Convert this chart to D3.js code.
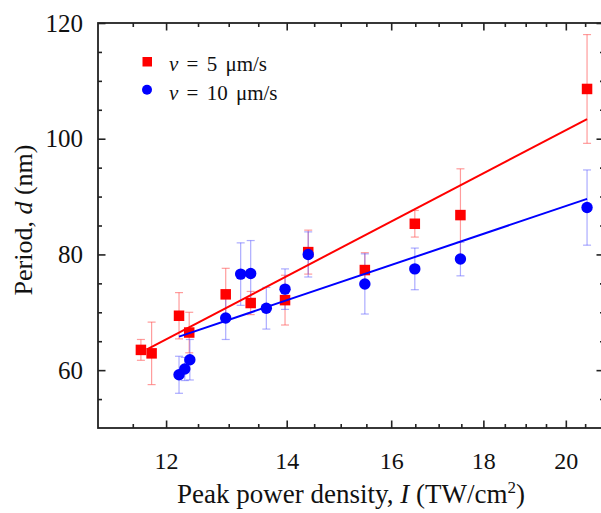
<!DOCTYPE html>
<html>
<head>
<meta charset="utf-8">
<script src="https://cdn.jsdelivr.net/npm/d3@7"></script>
<style>
  body { margin: 0; background: #fff; }
  svg { display: block; }
  text { font-family: "Liberation Serif", "Times New Roman", serif; fill: #111; }
</style>
</head>
<body>
<div id="chart"></div>
<script>
// peak power density (TW/cm2) and period d (nm)
var intensity5 = [11.62, 11.78, 12.2, 12.36, 12.95, 13.37, 13.97, 14.39, 15.47, 16.49, 17.48, 20.55];
var period5    = [63.5, 62.9, 69.4, 66.5, 73.1, 71.6, 72.1, 80.4, 77.3, 85.3, 86.8, 108.6];
var err5       = [1.8, 5.4, 4.0, 3.5, 4.5, 2.0, 4.3, 3.8, 3.0, 2.3, 8.0, 9.4];

var intensity10 = [12.2, 12.29, 12.37, 12.95, 13.2, 13.37, 13.64, 13.97, 14.39, 15.47, 16.49, 17.48, 20.55];
var period10    = [59.2, 60.2, 61.8, 69.0, 76.6, 76.7, 70.7, 74.0, 80.0, 74.9, 77.5, 79.2, 88.1];
var err10       = [3.2, 2.0, 3.5, 3.7, 5.4, 5.7, 3.6, 3.5, 3.9, 5.2, 3.6, 2.9, 6.5];

// linear fits (end points)
var fitX5 = [11.71, 20.55], fitY5 = [63.6, 103.4];
var fitX10 = [12.2, 20.55], fitY10 = [65.8, 89.6];

var xMajor = [12, 14, 16, 18, 20];
var xMinor = [11.5, 12.5, 13, 13.5, 14.5, 15, 15.5, 16.5, 17, 17.5, 18.5, 19, 19.5, 20.5];
var yMajor = [60, 80, 100, 120];
var yMinor = [55, 65, 70, 75, 85, 90, 95, 105, 110, 115];

var legendLabels = ["5 μm/s", "10 μm/s"];

var W = 601, H = 513;
var pLeft = 98, pRight = 604, pTop = 23, pBottom = 428;

var svg = d3.select("#chart").append("svg")
  .attr("width", W).attr("height", H);

var x = d3.scaleLog().domain([11, 21]).range([pLeft, pRight]);
var y = d3.scaleLinear().domain([50, 120]).range([pBottom, pTop]);

// axes: major ticks + minor ticks, all pointing inward, mirrored on top/right
function drawAxis(gen, tr, vals, size, labels) {
  var g = svg.append("g").attr("transform", tr)
    .call(gen.tickValues(vals).tickSize(size).tickSizeOuter(0)
      .tickFormat(labels ? d3.format("d") : ""));
  g.select(".domain").remove();
  g.selectAll(".tick line").attr("stroke", "#222").attr("stroke-width", 1.6);
  return g;
}

var bx = drawAxis(d3.axisBottom(x), "translate(0," + pBottom + ")", xMajor, -7.5, true);
bx.selectAll(".tick text").attr("y", 24).attr("font-size", 24)
  .attr("font-family", "Liberation Serif").attr("fill", "#111");
drawAxis(d3.axisBottom(x), "translate(0," + pBottom + ")", xMinor, -4, false);
drawAxis(d3.axisTop(x), "translate(0," + pTop + ")", xMajor, -7.5, false);
drawAxis(d3.axisTop(x), "translate(0," + pTop + ")", xMinor, -4, false);

var ly = drawAxis(d3.axisLeft(y), "translate(" + pLeft + ",0)", yMajor, -7.5, true);
ly.selectAll(".tick text").attr("x", -15).attr("font-size", 25)
  .attr("font-family", "Liberation Serif").attr("fill", "#111");
drawAxis(d3.axisLeft(y), "translate(" + pLeft + ",0)", yMinor, -4, false);
drawAxis(d3.axisRight(y), "translate(" + pRight + ",0)", yMajor, -7.5, false);
drawAxis(d3.axisRight(y), "translate(" + pRight + ",0)", yMinor, -4, false);

svg.append("rect")
  .attr("x", pLeft).attr("y", pTop)
  .attr("width", pRight - pLeft).attr("height", pBottom - pTop)
  .attr("fill", "none").attr("stroke", "#222").attr("stroke-width", 1.8);

// error bars
function errorBars(xs, ys, es, color) {
  var g = svg.append("g").attr("stroke", color).attr("stroke-width", 1.2).attr("fill", "none");
  xs.forEach(function(d, i) {
    var cx = x(d), y0 = y(ys[i] - es[i]), y1 = y(ys[i] + es[i]);
    g.append("line").attr("x1", cx).attr("x2", cx).attr("y1", y0).attr("y2", y1);
    g.append("line").attr("x1", cx - 4).attr("x2", cx + 4).attr("y1", y0).attr("y2", y0);
    g.append("line").attr("x1", cx - 4).attr("x2", cx + 4).attr("y1", y1).attr("y2", y1);
  });
}
errorBars(intensity5, period5, err5, "rgba(255,90,90,0.6)");
errorBars(intensity10, period10, err10, "rgba(90,90,255,0.5)");

var line = d3.line().x(function(d) { return x(d[0]); }).y(function(d) { return y(d[1]); });

// markers
svg.append("g").selectAll("rect")
  .data(d3.zip(intensity5, period5))
  .enter().append("rect")
    .attr("x", function(d) { return x(d[0]) - 5.25; })
    .attr("y", function(d) { return y(d[1]) - 5.25; })
    .attr("width", 10.5).attr("height", 10.5)
    .attr("fill", "#f00");

svg.append("g").selectAll("circle")
  .data(d3.zip(intensity10, period10))
  .enter().append("circle")
    .attr("cx", function(d) { return x(d[0]); })
    .attr("cy", function(d) { return y(d[1]); })
    .attr("r", 5.7)
    .attr("fill", "#00f");

// fit lines
svg.append("path").datum(d3.zip(fitX5, fitY5))
  .attr("d", line).attr("stroke", "#f00").attr("stroke-width", 2).attr("fill", "none");
svg.append("path").datum(d3.zip(fitX10, fitY10))
  .attr("d", line).attr("stroke", "#00f").attr("stroke-width", 2).attr("fill", "none");

// legend
var leg = svg.append("g");
leg.append("rect").attr("x", 142.5).attr("y", 57).attr("width", 9.5).attr("height", 9.5).attr("fill", "#f00");
leg.append("circle").attr("cx", 147).attr("cy", 89.7).attr("r", 5).attr("fill", "#00f");
legendLabels.forEach(function(t, i) {
  var tx = leg.append("text").attr("x", 169).attr("y", 71 + i * 28.5)
    .attr("font-size", 21).attr("word-spacing", 3);
  tx.append("tspan").attr("font-style", "italic").text("v");
  tx.append("tspan").text(" = " + t);
});

// axis titles
var xt = svg.append("text").attr("x", 351).attr("y", 503)
  .attr("text-anchor", "middle").attr("font-size", 27);
xt.append("tspan").text("Peak power density, ");
xt.append("tspan").attr("font-style", "italic").text("I");
xt.append("tspan").text(" (TW/cm");
xt.append("tspan").attr("font-size", 17).attr("dy", -10).text("2");
xt.append("tspan").attr("dy", 10).text(")");

var yt = svg.append("text").attr("transform", "translate(32,220) rotate(-90)")
  .attr("text-anchor", "middle").attr("font-size", 26);
yt.append("tspan").text("Period, ");
yt.append("tspan").attr("font-style", "italic").text("d");
yt.append("tspan").text(" (nm)");
</script>
</body>
</html>
